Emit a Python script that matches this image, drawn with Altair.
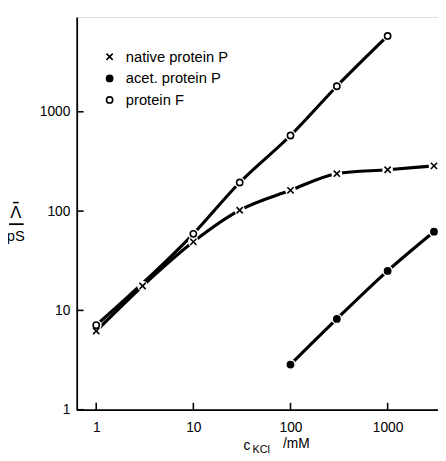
import altair as alt
import pandas as pd

# ---- data ----
series_names = ["native protein P", "acet. protein P", "protein F"]

c_native = [1, 3, 10, 30, 100, 300, 1000, 3000]
v_native = [6.2, 17.6, 49, 102, 162, 238, 261, 285]

c_acet = [100, 300, 1000, 3000]
v_acet = [2.85, 8.2, 25, 62]

c_F = [1, 10, 30, 100, 300, 1000]
v_F = [7.1, 59, 194, 577, 1808, 5800]

x_ticks = [1, 10, 100, 1000]
y_ticks = [1, 10, 100, 1000]

rows = []
for name, cs, vs in zip(series_names, [c_native, c_acet, c_F], [v_native, v_acet, v_F]):
    for c, v in zip(cs, vs):
        rows.append({"series": name, "c": c, "v": v})
df = pd.DataFrame(rows)

W, H = 368, 400
FONT = "Liberation Sans"

xscale = alt.Scale(type="log", domain=[0.63, 3300], nice=False)
yscale = alt.Scale(type="log", domain=[1, 9000], nice=False)

xenc = alt.X("c:Q", scale=xscale,
             axis=alt.Axis(values=x_ticks, format="d", title=None, grid=False,
                           ticks=False, labelPadding=11, labelFontSize=14,
                           labelFont=FONT, labelColor="black", domainColor="black",
                           domainWidth=1.8, labelFlush=False))
yenc = alt.Y("v:Q", scale=yscale,
             axis=alt.Axis(values=y_ticks, format="d", title=None, grid=False,
                           ticks=False, labelPadding=7, labelFontSize=14,
                           labelFont=FONT, labelColor="black", domainColor="black",
                           domainWidth=1.8))

base = alt.Chart(df)

lines = base.mark_line(color="black", strokeWidth=3.2, interpolate="monotone").encode(
    x=xenc, y=yenc, detail="series:N")

halo = base.mark_point(filled=True, color="white", size=120, opacity=1, shape="circle").encode(
    x="c:Q", y="v:Q")

shape_scale = alt.Scale(domain=series_names,
                        range=["M-1,-1L1,1M-1,1L1,-1", "circle", "circle"])
fill_scale = alt.Scale(domain=series_names, range=["black", "black", "white"])
stroke_scale = alt.Scale(domain=series_names, range=["black", "black", "black"])

def leg():
    return alt.Legend(title=None, orient="none", legendX=26, legendY=33,
                      labelFontSize=15, labelFont=FONT, labelColor="black",
                      symbolSize=40, symbolStrokeWidth=1.6, rowPadding=6,
                      labelOffset=9, padding=0)

markers = base.mark_point(filled=True, size=40, strokeWidth=1.6, opacity=1).encode(
    x="c:Q", y="v:Q",
    shape=alt.Shape("series:N", scale=shape_scale, sort=series_names, legend=leg()),
    fill=alt.Fill("series:N", scale=fill_scale, sort=series_names, legend=leg()),
    stroke=alt.Stroke("series:N", scale=stroke_scale, sort=series_names, legend=leg()),
)

# inward tick marks at the decades
xt = alt.Chart(pd.DataFrame({"t": x_ticks})).mark_rule(color="black", strokeWidth=1.6).encode(
    x=alt.X("t:Q", scale=xscale), y=alt.value(H - 7), y2=alt.value(H))
yt = alt.Chart(pd.DataFrame({"t": y_ticks})).mark_rule(color="black", strokeWidth=1.6).encode(
    y=alt.Y("t:Q", scale=yscale), x=alt.value(0), x2=alt.value(7))

one = pd.DataFrame({"a": [0]})

def txt(s, x, y, size, align="center", baseline="middle"):
    return alt.Chart(one).mark_text(text=s, fontSize=size, font=FONT, color="black",
                                    align=align, baseline=baseline).encode(
        x=alt.value(x), y=alt.value(y))

def rule(x1, x2, y, w=1.6):
    return alt.Chart(one).mark_rule(color="black", strokeWidth=w).encode(
        x=alt.value(x1), x2=alt.value(x2), y=alt.value(y))

# y title: Λ̄ / pS
ytitle = [
    txt("Λ", -62, 200, 17),
    rule(-65, -59, 189, 1.5),
    rule(-69, -54, 211, 1.8),
    txt("pS", -62, 223, 15),
]
# x title: c_KCl /mM
xtitle = [
    txt("c", 170, 437, 14, align="left"),
    txt("KCl", 179, 441, 11, align="left"),
    txt("/mM", 210, 435, 14, align="left"),
]

chart = alt.layer(lines, halo, markers, xt, yt, *ytitle, *xtitle).resolve_scale(
    x="shared", y="shared").properties(
    width=W, height=H, autosize="none",
    padding={"left": 70, "top": 5, "right": 0, "bottom": 45},
).configure_view(stroke=None).configure(background="white")

chart.save("out.html", embed_options={"renderer": "svg", "actions": False})
